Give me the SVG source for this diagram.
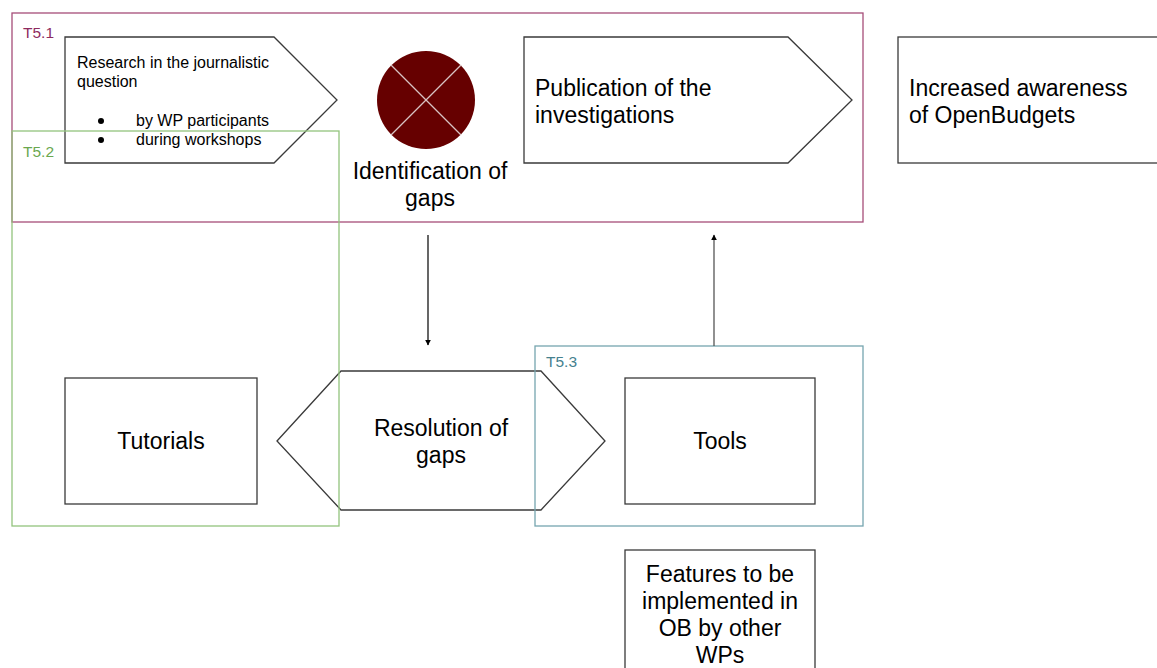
<svg xmlns="http://www.w3.org/2000/svg" width="1157" height="668" viewBox="0 0 1157 668">
<style>
.t{font-family:"Liberation Sans",Arial,sans-serif;fill:#000}
.big{font-size:23px}
.sm{font-size:16px}
.lbl{font-size:15.5px}
.node{fill:#fff;stroke:#3a3a3a;stroke-width:1.3}
.grp{fill:none;stroke-width:1.3}
</style>
<defs>
<marker id="ah" viewBox="0 0 10 10" refX="9" refY="5" markerWidth="6" markerHeight="7" orient="auto" markerUnits="userSpaceOnUse">
<path d="M0,0 L10,5 L0,10 Z" fill="#000"/>
</marker>
</defs>
<rect width="1157" height="668" fill="#fff"/>

<g id="research">
<polygon class="node" points="65,37 274,37 337,100 274,163 65,163"/>
<text class="t sm" x="77" y="68">Research in the journalistic</text>
<text class="t sm" x="77" y="87">question</text>
<circle cx="101" cy="121" r="3" fill="#000"/>
<circle cx="101" cy="140" r="3" fill="#000"/>
<text class="t sm" x="136" y="126">by WP participants</text>
<text class="t sm" x="136" y="145">during workshops</text>
</g>

<g id="identification">
<circle cx="426" cy="100" r="49" fill="#660000"/>
<line x1="391" y1="65" x2="461" y2="135" stroke="#d9c3c3" stroke-width="1.3"/>
<line x1="461" y1="65" x2="391" y2="135" stroke="#d9c3c3" stroke-width="1.3"/>
<text class="t big" x="430" y="179" text-anchor="middle">Identification of</text>
<text class="t big" x="430" y="206" text-anchor="middle">gaps</text>
</g>

<g id="publication">
<polygon class="node" points="524,37 788,37 852,100 788,163 524,163"/>
<text class="t big" x="535" y="96">Publication of the</text>
<text class="t big" x="535" y="123">investigations</text>
</g>

<g id="awareness">
<rect class="node" x="898" y="37" width="270" height="126"/>
<text class="t big" x="909" y="96">Increased awareness</text>
<text class="t big" x="909" y="123">of OpenBudgets</text>
</g>

<g id="tutorials">
<rect class="node" x="65" y="378" width="192" height="126"/>
<text class="t big" x="161" y="449" text-anchor="middle">Tutorials</text>
</g>

<g id="resolution">
<polygon class="node" points="277,441 341,371 541,371 605,441 541,510 341,510"/>
<text class="t big" x="441" y="436" text-anchor="middle">Resolution of</text>
<text class="t big" x="441" y="463" text-anchor="middle">gaps</text>
</g>

<g id="tools">
<rect class="node" x="625" y="378" width="190" height="126"/>
<text class="t big" x="720" y="449" text-anchor="middle">Tools</text>
</g>

<g id="features">
<rect class="node" x="625" y="550" width="190" height="130"/>
<text class="t big" x="720" y="582" text-anchor="middle">Features to be</text>
<text class="t big" x="720" y="609" text-anchor="middle">implemented in</text>
<text class="t big" x="720" y="636" text-anchor="middle">OB by other</text>
<text class="t big" x="720" y="663" text-anchor="middle">WPs</text>
</g>

<g id="t51">
<rect class="grp" x="12" y="13" width="851" height="209" stroke="#a64d79"/>
<text class="t lbl" x="23" y="38" style="fill:#8e2a5e">T5.1</text>
</g>

<g id="t52">
<rect class="grp" x="12" y="131" width="327" height="395" stroke="#93c47d"/>
<text class="t lbl" x="23" y="157" style="fill:#6aa84f">T5.2</text>
</g>

<g id="t53">
<rect class="grp" x="535" y="346" width="328" height="180" stroke="#76a5af"/>
<text class="t lbl" x="546" y="367" style="fill:#45818e">T5.3</text>
</g>

<g id="connectors">
<line x1="428" y1="235" x2="428" y2="345" stroke="#000" stroke-width="1.2" marker-end="url(#ah)"/>
<line x1="714" y1="346" x2="714" y2="235" stroke="#555" stroke-width="1.3" marker-end="url(#ah)"/>
</g>
</svg>
